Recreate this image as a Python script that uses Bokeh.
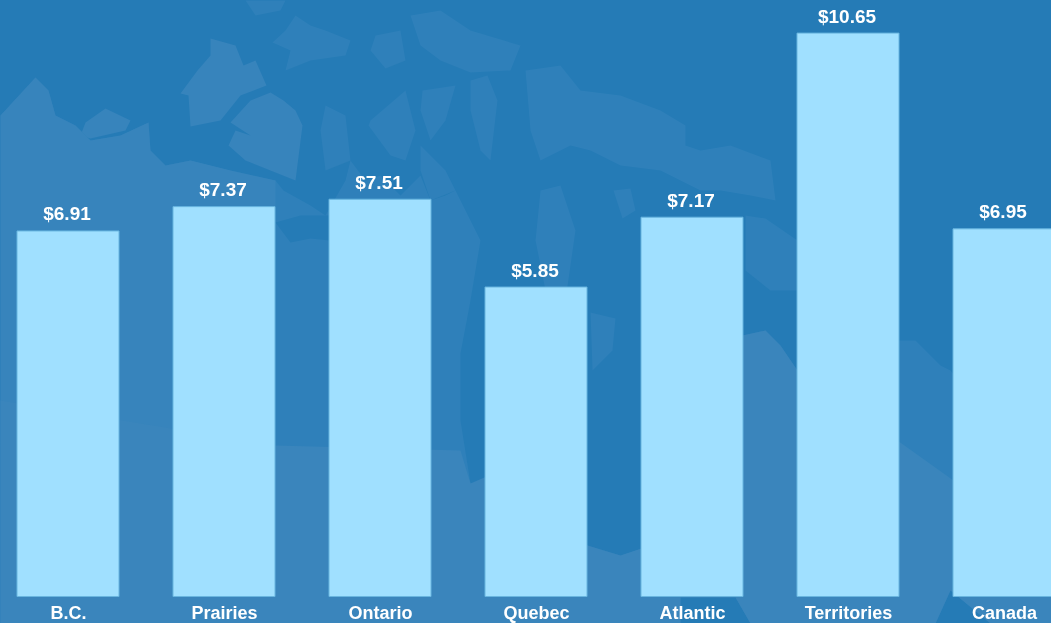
from bokeh.plotting import figure
from bokeh.models import Range1d, ColumnDataSource
from bokeh.core.properties import value
from bokeh.embed import file_html
from bokeh.resources import INLINE

categories = ["B.C.", "Prairies", "Ontario", "Quebec", "Atlantic", "Territories", "Canada"]
prices = [6.91, 7.37, 7.51, 5.85, 7.17, 10.65, 6.95]
price_labels = ["$6.91", "$7.37", "$7.51", "$5.85", "$7.17", "$10.65", "$6.95"]

# decorative backdrop shapes (a rough outline of Canada), in page pixels
mainland_x = [0, 35, 48, 55, 75, 90, 120, 148, 150, 165, 190, 230, 275, 283, 310, 325, 345, 350, 365, 380, 400, 420, 430, 445, 455, 480, 470, 460, 460, 470, 485, 500, 587, 610, 620, 641, 700, 742, 765, 780, 797, 850, 897, 915, 940, 950, 975, 1000, 1051, 1051, 990, 950, 935, 750, 735, 680, 680, 0]
mainland_y = [115, 77, 90, 115, 125, 140, 135, 122, 150, 165, 160, 170, 180, 190, 205, 215, 180, 160, 180, 175, 195, 175, 200, 195, 190, 240, 300, 353, 420, 483, 480, 470, 545, 552, 555, 548, 500, 335, 330, 345, 370, 350, 340, 340, 365, 370, 400, 470, 500, 623, 623, 590, 623, 623, 597, 597, 623, 623]
west_x = [0, 35, 48, 55, 75, 90, 120, 148, 150, 165, 190, 230, 275, 275, 0]
west_y = [115, 77, 90, 115, 125, 140, 135, 122, 150, 165, 160, 170, 180, 623, 623]
south_x = [0, 275, 460, 470, 500, 587, 610, 620, 641, 700, 742, 765, 780, 797, 850, 897, 953, 1051, 1051, 990, 950, 935, 750, 735, 680, 680, 0]
south_y = [400, 445, 450, 483, 470, 545, 552, 555, 548, 500, 335, 330, 345, 370, 380, 440, 480, 500, 623, 623, 590, 623, 623, 597, 597, 623, 623]
lake_x = [275, 300, 329, 329, 310, 290]
lake_y = [222, 215, 215, 240, 238, 242]
islands_x = [
    [210, 235, 243, 255, 266, 240, 220, 190, 188, 180, 197, 210],
    [270, 283, 295, 302, 295, 270, 245, 228, 235, 250, 230, 250],
    [85, 105, 130, 125, 90, 80],
    [295, 310, 325, 350, 345, 310, 285, 290, 272, 285],
    [245, 285, 280, 255],
    [325, 345, 350, 325, 320],
    [370, 405, 415, 405, 390, 368],
    [375, 400, 405, 385, 370],
    [422, 455, 445, 430, 420],
    [420, 445, 455, 430, 420],
    [470, 487, 497, 490, 480, 470],
    [410, 440, 470, 520, 510, 470, 440, 420],
    [525, 560, 580, 620, 660, 685, 685, 700, 730, 770, 775, 750, 720, 700, 660, 620, 590, 570, 540, 530],
    [540, 560, 575, 565, 545, 535],
    [613, 630, 635, 622],
    [745, 765, 797, 797, 770, 745],
    [590, 615, 612, 592],
]
islands_y = [
    [38, 45, 65, 60, 85, 95, 120, 126, 95, 93, 70, 55],
    [92, 100, 110, 125, 180, 170, 160, 145, 130, 135, 122, 100],
    [122, 108, 120, 130, 138, 135],
    [15, 25, 30, 40, 55, 60, 70, 50, 42, 30],
    [0, 0, 10, 15],
    [105, 115, 160, 170, 130],
    [120, 90, 130, 160, 155, 125],
    [35, 30, 60, 68, 50],
    [90, 85, 120, 140, 110],
    [145, 170, 190, 200, 170],
    [80, 75, 100, 160, 150, 110],
    [15, 10, 30, 45, 70, 72, 60, 45],
    [70, 65, 90, 95, 110, 125, 145, 150, 145, 160, 200, 195, 190, 190, 170, 165, 150, 145, 160, 130],
    [190, 185, 230, 300, 290, 240],
    [190, 188, 210, 218],
    [215, 218, 240, 290, 290, 270],
    [312, 318, 350, 370],
]

BACK = "#257bb6"
LAND = "#2f80ba"
WEST = "#3784bc"
SOUTH = "#3a85bc"
BAR = "#a0e0ff"
BAR_EDGE = "#69b6e0"

PX_PER_UNIT = 52.9
BASE_Y = 596
X0 = 67.5
W, H = 1051, 623
PAD = 1  # the figure overshoots the window slightly so no edge line shows

p = figure(
    width=W + 2 * PAD, height=H + 2 * PAD, output_backend="svg", toolbar_location=None,
    x_range=Range1d((-X0 - PAD) / 156, (W + PAD - X0) / 156),
    y_range=Range1d(-(H + PAD - BASE_Y) / PX_PER_UNIT, (BASE_Y + PAD) / PX_PER_UNIT),
    min_border=0, outline_line_color=None,
    background_fill_color=BACK, border_fill_color=BACK,
)
p.axis.visible = False
p.grid.visible = False
p.styles = {"position": "fixed", "left": f"{-PAD}px", "top": f"{-PAD}px"}

p.extra_x_ranges["px"] = Range1d(-PAD, W + PAD)
p.extra_y_ranges["px"] = Range1d(H + PAD, -PAD)

island_colors = [WEST, WEST, WEST] + [LAND] * (len(islands_x) - 3)
p.patches("xs", "ys", source=ColumnDataSource(dict(xs=islands_x, ys=islands_y, c=island_colors)),
          x_range_name="px", y_range_name="px", fill_color="c", line_color=None)
p.patch(mainland_x, mainland_y, x_range_name="px", y_range_name="px",
        fill_color=LAND, line_color=None)
p.patch(west_x, west_y, x_range_name="px", y_range_name="px",
        fill_color=WEST, line_color=None)
p.patch(lake_x, lake_y, x_range_name="px", y_range_name="px",
        fill_color=BACK, line_color=None)
p.patch(south_x, south_y, x_range_name="px", y_range_name="px",
        fill_color=SOUTH, line_color=None)

xs = list(range(len(categories)))
src = ColumnDataSource(dict(x=xs, top=prices, bottom=[0] * len(xs),
                            cat=categories, lab=price_labels))

p.vbar(x="x", top="top", bottom="bottom", width=102 / 156, source=src,
       fill_color=BAR, line_color=BAR_EDGE, line_width=1)

p.text(x="x", y="top", text="lab", source=src, x_offset=-1, y_offset=-17,
       text_align="center", text_baseline="alphabetic",
       text_color="white", text_font=value("Liberation Sans"),
       text_font_style="bold", text_font_size="19px")

p.text(x="x", y="bottom", text="cat", source=src, x_offset=0.5, y_offset=16,
       text_align="center", text_baseline="alphabetic",
       text_color="white", text_font=value("Liberation Sans"),
       text_font_style="bold", text_font_size="18px")

open("out.html", "w").write(file_html(p, INLINE))
